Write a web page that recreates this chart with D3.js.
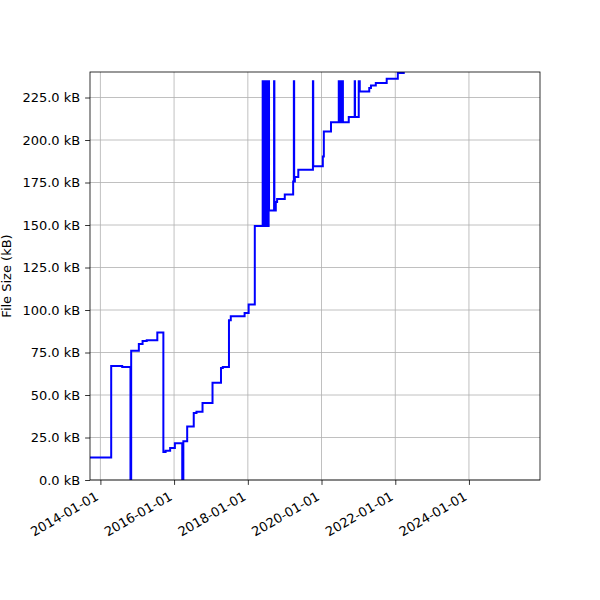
<!DOCTYPE html>
<html>
<head>
<meta charset="utf-8">
<script src="https://cdn.jsdelivr.net/npm/d3@7"></script>
<style>
  html, body { margin: 0; padding: 0; background: #fff; }
  svg, svg text { font-family: "DejaVu Sans", sans-serif; }
  svg { display: block; }
</style>
</head>
<body>
<script>
// ---- data ----
const dates = [
  "2013-09-20","2014-04-18","2014-08-05","2014-10-26","2014-11-02",
  "2015-01-17","2015-02-23","2015-04-05","2015-07-19","2015-09-17",
  "2015-10-09","2015-11-23","2016-01-09","2016-03-22","2016-04-02",
  "2016-05-10","2016-07-14","2016-08-10","2016-10-09","2017-01-16",
  "2017-04-10","2017-04-28","2017-06-28","2017-07-16","2017-11-30",
  "2018-01-09","2018-03-11",
  "2018-05-28","2018-06-01","2018-06-09","2018-06-13","2018-06-21","2018-06-25",
  "2018-07-03","2018-07-07","2018-07-15","2018-07-19","2018-07-26","2018-07-30",
  "2018-09-18","2018-09-21","2018-10-05","2018-10-18","2019-01-02",
  "2019-03-26","2019-04-02","2019-04-05","2019-04-12","2019-05-16",
  "2019-10-08","2019-10-11","2020-01-14","2020-01-24","2020-04-04",
  "2020-06-20","2020-06-24","2020-07-02","2020-07-06","2020-07-15","2020-07-19",
  "2020-07-27","2020-07-31","2020-09-27","2020-11-25","2020-11-28",
  "2021-01-04","2021-01-14","2021-04-18","2021-05-05","2021-06-22",
  "2021-10-08","2022-01-26","2022-03-26","2022-06-01"
];
const sizesKB = [
  13.3, 67.0, 66.5, 0, 76.0,
  80.0, 81.8, 82.2, 86.8, 16.5,
  17.2, 18.8, 21.6, 0, 22.8,
  31.5, 39.4, 40.2, 45.3, 57.2,
  65.9, 66.5, 93.9, 96.3, 98.2,
  103.3, 149.4,
  234.5, 149.4, 234.5, 149.4, 234.5, 149.4,
  234.5, 149.4, 234.5, 149.4, 234.5, 158.5,
  234.5, 158.5, 163.5, 165.3, 168.0,
  175.6, 234.5, 175.6, 178.2, 182.5,
  234.5, 184.5, 190.3, 205.0, 210.4,
  234.5, 210.4, 234.5, 210.4, 234.5, 210.4,
  234.5, 210.4, 213.5, 234.5, 213.5,
  234.5, 228.6, 230.6, 232.0, 233.5,
  236.0, 239.4, 244.0, 244.0
];
const yTicks = [0, 25, 50, 75, 100, 125, 150, 175, 200, 225];
const xTickLabels = ["2014-01-01","2016-01-01","2018-01-01","2020-01-01","2022-01-01","2024-01-01"];
const xDomain = ["2013-09-20", "2025-12-05"];
const yDomain = [0, 240];
const yLabel = "File Size (kB)";

// ---- layout ----
const W = 600, H = 600;
const m = { left: 90, right: 60, top: 72, bottom: 120 };
const FONT = "DejaVu Sans";
const parse = d3.utcParse("%Y-%m-%d");
const data = dates.map((d, i) => ({ date: parse(d), v: sizesKB[i] }));

const x = d3.scaleUtc().domain(xDomain.map(parse)).range([m.left, W - m.right]);
const y = d3.scaleLinear().domain(yDomain).range([H - m.bottom, m.top]);

const svg = d3.select("body").append("svg").attr("width", W).attr("height", H);

svg.append("defs").append("clipPath").attr("id", "clip")
  .append("rect").attr("x", m.left).attr("y", m.top)
  .attr("width", W - m.left - m.right).attr("height", H - m.top - m.bottom);

const xTickDates = xTickLabels.map(parse);

// grid
const grid = svg.append("g").attr("stroke", "#b0b0b0").attr("stroke-width", 0.8);
grid.selectAll("line.gx").data(xTickDates).join("line")
  .attr("x1", d => x(d)).attr("x2", d => x(d))
  .attr("y1", m.top).attr("y2", H - m.bottom);
grid.selectAll("line.gy").data(yTicks).join("line")
  .attr("x1", m.left).attr("x2", W - m.right)
  .attr("y1", d => y(d)).attr("y2", d => y(d));

// line
const line = d3.line().x(d => x(d.date)).y(d => y(d.v)).curve(d3.curveStepAfter);
svg.append("path").datum(data)
  .attr("clip-path", "url(#clip)")
  .attr("fill", "none").attr("stroke", "#0000ff").attr("stroke-width", 2)
  .attr("stroke-linejoin", "miter").attr("d", line);

// axes
const xAxis = d3.axisBottom(x).tickValues(xTickDates).tickSize(4.9).tickPadding(4.9)
  .tickFormat(d3.utcFormat("%Y-%m-%d"));
const gx = svg.append("g").attr("transform", `translate(0,${H - m.bottom})`).call(xAxis)
  .attr("font-family", FONT).attr("font-size", 13);
gx.select(".domain").remove();
gx.selectAll(".tick line").attr("stroke", "#000").attr("stroke-width", 0.8);
gx.selectAll(".tick text")
  .attr("fill", "#000")
  .attr("text-anchor", "end")
  .attr("dy", null).attr("y", null)
  .attr("transform", "translate(-1.5,19) rotate(-30)");

const yAxis = d3.axisLeft(y).tickValues(yTicks).tickSize(4.9).tickPadding(4.9)
  .tickFormat(d => d.toFixed(1) + " kB");
const gy = svg.append("g").attr("transform", `translate(${m.left},0)`).call(yAxis)
  .attr("font-family", FONT).attr("font-size", 13);
gy.select(".domain").remove();
gy.selectAll(".tick line").attr("stroke", "#000").attr("stroke-width", 0.8);
gy.selectAll(".tick text").attr("fill", "#000");

// frame
svg.append("rect").attr("x", m.left).attr("y", m.top)
  .attr("width", W - m.left - m.right).attr("height", H - m.top - m.bottom)
  .attr("fill", "none").attr("stroke", "#000").attr("stroke-width", 0.8);

// y label
svg.append("text")
  .attr("transform", `translate(11,${(m.top + H - m.bottom) / 2}) rotate(-90)`)
  .attr("text-anchor", "middle").attr("font-family", FONT).attr("font-size", 13).attr("fill", "#000")
  .text(yLabel);
</script>
</body>
</html>
